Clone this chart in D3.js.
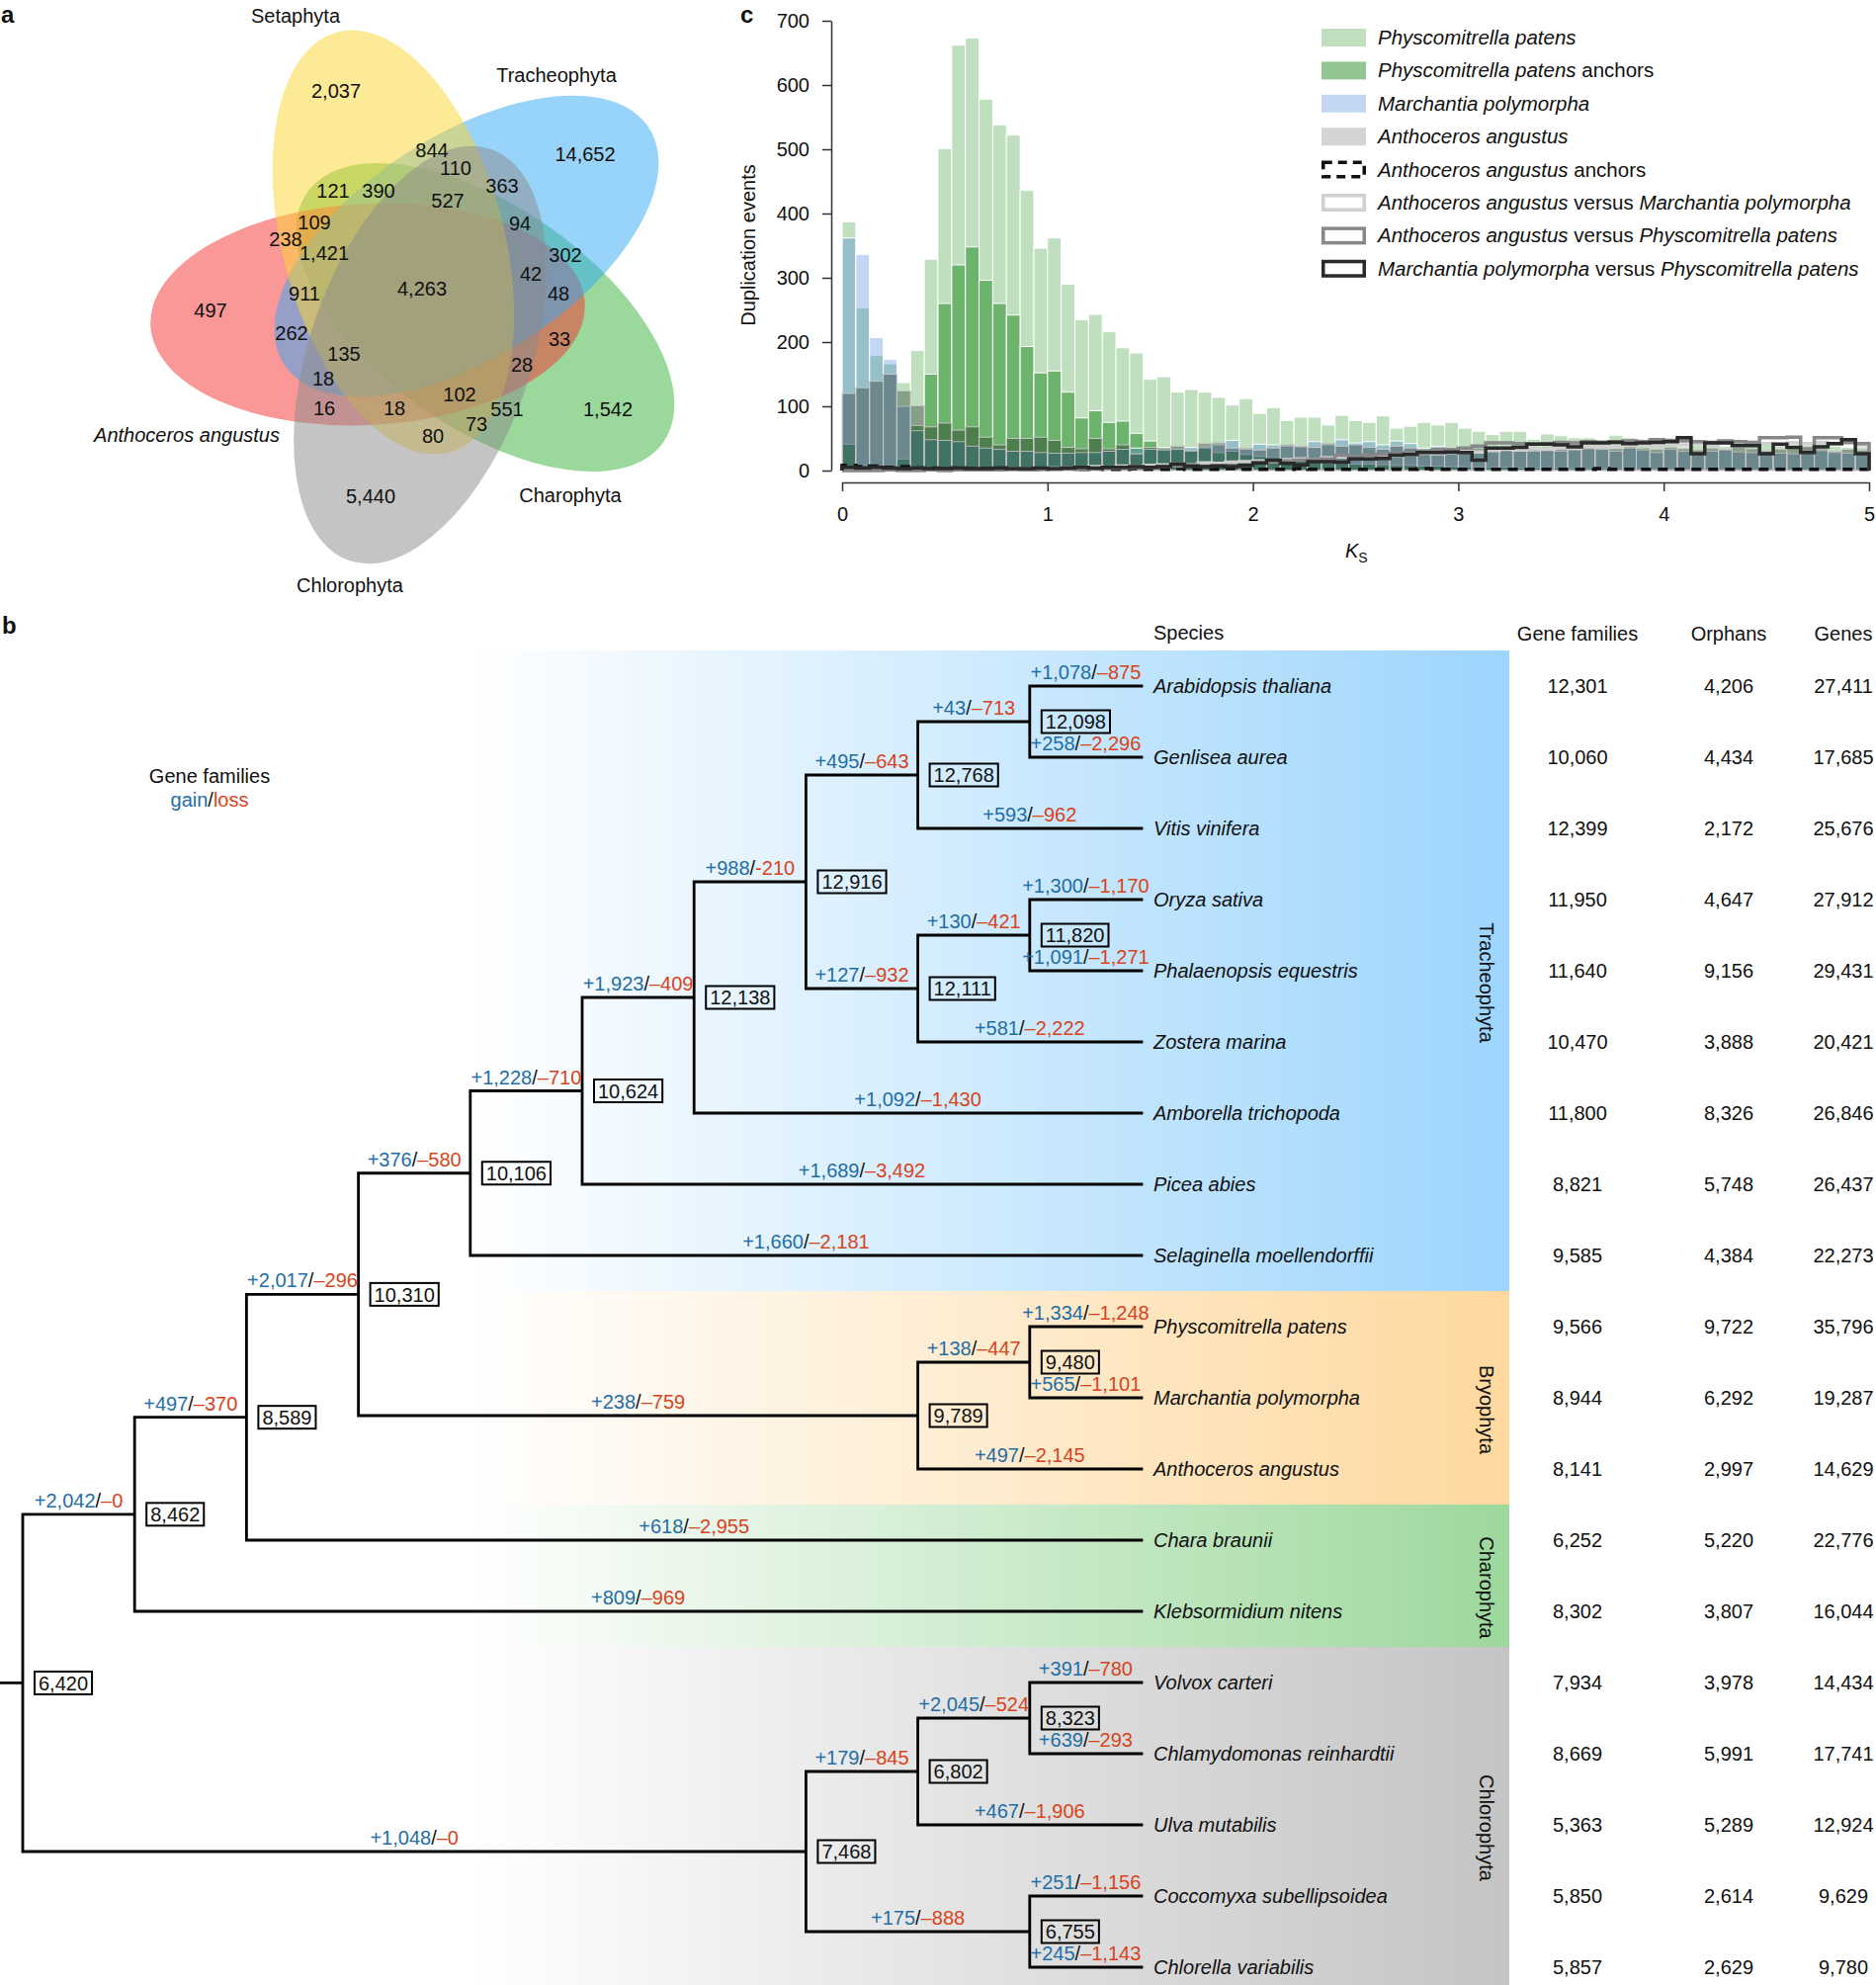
<!DOCTYPE html>
<html>
<head>
<meta charset="utf-8">
<script src="https://cdn.jsdelivr.net/npm/d3@7"></script>
<style>
  body { margin: 0; background: #fff; }
  text { font-family: "Liberation Sans", Arial, Helvetica, sans-serif; font-size: 20px; fill: #111; white-space: pre; }
  .panel { font-weight: bold; font-size: 24px; }
  .axis text { font-size: 20px; }
  .axis path, .axis line { stroke: #333; stroke-width: 1.5; }
</style>
</head>
<body>
<script>

// ---------- panel a : five-set Venn ----------
var vennNames  = ["Setaphyta", "Tracheophyta", "Charophyta", "Chlorophyta", "Anthoceros angustus"];
var vennColors = ["rgb(251,213,45)", "rgb(49,167,245)", "rgb(55,177,55)", "rgb(137,137,137)", "rgb(245,49,49)"];
var vennCounts = [2037, 14652, 1542, 5440, 497, 844, 110, 121, 390, 527, 363, 109, 94, 238, 1421,
                  302, 4263, 42, 911, 48, 262, 33, 135, 28, 18, 102, 16, 18, 551, 73, 80];

// ---------- panel c : Ks histograms (bins of 1/15 from 0 to 5) ----------
var ksBinWidth = 1 / 15;
var ppCounts = [387,253,179,166,137,187,329,501,662,673,578,538,522,436,346,362,290,235,243,216,
                191,183,142,146,122,126,122,114,102,112,89,98,78,83,83,71,86,78,75,85,
                66,69,75,71,75,66,61,56,61,61,49,57,54,51,51,48,55,51,49,43,
                48,37,40,45,38,42,40,44,38,35,40,42,38,36,37];
var ppAnchors = [41,8,6,4,18,70,150,260,320,348,296,260,242,193,152,155,122,82,93,75,
                 77,58,46,36,33,30,35,28,30,25,22,20,18,15,14,12,12,10,10,9,
                 8,8,7,7,6,6,5,5,5,4,4,4,4,3,3,3,3,3,2,2,
                 2,2,2,2,2,2,1,1,1,1,1,1,1,1,1];
var mpCounts = [362,336,207,173,100,62,48,47,45,38,35,33,30,30,28,27,27,28,28,30,
                33,35,33,32,33,36,37,40,47,33,41,40,38,37,45,40,48,43,45,40,
                46,42,35,38,36,32,30,36,35,32,30,33,30,32,34,33,30,35,32,28,
                33,30,28,30,32,29,28,30,27,26,30,31,28,27,25];
var aaCounts = [120,129,139,150,124,101,68,74,63,68,52,40,50,50,52,47,36,34,50,34,
                40,26,36,34,38,31,42,43,35,35,32,35,40,38,36,42,38,40,36,33,
                38,35,30,36,33,30,35,32,36,38,34,36,33,35,37,34,36,38,35,33,
                36,34,32,35,33,36,34,31,33,35,32,34,30,33,32];
var aaAnchors = [8,6,7,5,6,4,4,3,4,3,3,4,3,3,2,3,3,2,3,2,
                 2,3,2,2,3,2,2,2,3,2,2,2,2,3,2,2,2,2,2,2,
                 2,2,3,2,2,2,2,2,2,2,2,2,2,2,2,3,2,2,2,2,
                 2,2,2,2,2,2,2,2,2,2,2,2,2,2,2];
var aaVsMp = [0,0,1,1,1,1,1,1,2,2,2,2,3,3,3,4,4,5,6,5,
              7,6,8,9,10,9,12,11,13,14,15,14,17,18,17,20,21,19,22,24,
              23,25,27,26,28,30,29,31,33,32,34,33,36,35,37,38,36,39,40,38,
              41,40,42,39,43,44,41,42,40,43,42,44,41,43,40];
var aaVsPp = [0,0,0,1,0,0,1,0,1,1,1,1,2,1,2,2,3,2,3,4,
              4,5,5,6,7,8,7,8,8,9,12,14,15,16,17,18,24,22,24,25,
              27,28,30,31,33,35,38,43,43,42,41,42,44,43,45,44,45,46,45,48,
              47,46,45,44,46,45,44,51,51,52,34,51,51,44,42];
var mpVsPp = [5,4,5,4,3,4,3,3,4,3,3,4,3,3,4,3,4,5,4,5,
              5,6,5,6,10,7,6,7,6,8,12,16,11,9,14,14,13,18,18,19,
              24,25,28,28,29,28,16,35,35,36,41,41,40,37,43,43,44,42,43,44,
              45,51,26,43,43,39,39,26,41,36,28,37,42,48,26];
var ksTicks  = [0, 1, 2, 3, 4, 5];
var dupTicks = [0, 100, 200, 300, 400, 500, 600, 700];
var seriesNames = ["Physcomitrella patens", "Physcomitrella patens anchors", "Marchantia polymorpha",
                   "Anthoceros angustus", "Anthoceros angustus anchors",
                   "Anthoceros angustus versus Marchantia polymorpha",
                   "Anthoceros angustus versus Physcomitrella patens",
                   "Marchantia polymorpha versus Physcomitrella patens"];

// ---------- panel b : species tree ----------
var speciesNames = ["Arabidopsis thaliana", "Genlisea aurea", "Vitis vinifera", "Oryza sativa",
  "Phalaenopsis equestris", "Zostera marina", "Amborella trichopoda", "Picea abies",
  "Selaginella moellendorffii", "Physcomitrella patens", "Marchantia polymorpha", "Anthoceros angustus",
  "Chara braunii", "Klebsormidium nitens", "Volvox carteri", "Chlamydomonas reinhardtii",
  "Ulva mutabilis", "Coccomyxa subellipsoidea", "Chlorella variabilis"];
var geneFamilies = [12301,10060,12399,11950,11640,10470,11800,8821,9585,9566,8944,8141,6252,8302,7934,8669,5363,5850,5857];
var orphans      = [4206,4434,2172,4647,9156,3888,8326,5748,4384,9722,6292,2997,5220,3807,3978,5991,5289,2614,2629];
var genes        = [27411,17685,25676,27912,29431,20421,26846,26437,22273,35796,19287,14629,22776,16044,14434,17741,12924,9629,9780];
var tableHeads   = ["Gene families", "Orphans", "Genes"];

var nodeIds = ["root", "streptophyta", "n8589", "embryophyta", "tracheophyta", "euphyllophyta",
  "angiosperms", "mesangiosperms", "eudicots", "n12098", "Arabidopsis thaliana", "Genlisea aurea",
  "Vitis vinifera", "monocots", "n11820", "Oryza sativa", "Phalaenopsis equestris", "Zostera marina",
  "Amborella trichopoda", "Picea abies", "Selaginella moellendorffii", "bryophytes", "setaphytes",
  "Physcomitrella patens", "Marchantia polymorpha", "Anthoceros angustus", "Chara braunii",
  "Klebsormidium nitens", "chlorophyta", "n6802", "n8323", "Volvox carteri",
  "Chlamydomonas reinhardtii", "Ulva mutabilis", "n6755", "Coccomyxa subellipsoidea", "Chlorella variabilis"];
var nodeParents = [null, "root", "streptophyta", "n8589", "embryophyta", "tracheophyta",
  "euphyllophyta", "angiosperms", "mesangiosperms", "eudicots", "n12098", "n12098",
  "eudicots", "mesangiosperms", "monocots", "n11820", "n11820", "monocots",
  "angiosperms", "euphyllophyta", "tracheophyta", "embryophyta", "bryophytes",
  "setaphytes", "setaphytes", "bryophytes", "n8589",
  "streptophyta", "root", "chlorophyta", "n6802", "n8323",
  "n8323", "n6802", "chlorophyta", "n6755", "n6755"];
var nodeGain = [null, 2042, 497, 2017, 376, 1228, 1923, 988, 495, 43, 1078, 258, 593, 127, 130, 1300, 1091, 581,
  1092, 1689, 1660, 238, 138, 1334, 565, 497, 618, 809, 1048, 179, 2045, 391, 639, 467, 175, 251, 245];
var nodeLoss = [null, 0, 370, 296, 580, 710, 409, 210, 643, 713, 875, 2296, 962, 932, 421, 1170, 1271, 2222,
  1430, 3492, 2181, 759, 447, 1248, 1101, 2145, 2955, 969, 0, 845, 524, 780, 293, 1906, 888, 1156, 1143];
var nodeFamilies = [6420, 8462, 8589, 10310, 10106, 10624, 12138, 12916, 12768, 12098, null, null,
  null, 12111, 11820, null, null, null, null, null, null, 9789, 9480, null, null, null, null,
  null, 7468, 6802, 8323, null, null, null, 6755, null, null];
var hyphenLoss = ["mesangiosperms"];

var cladeNames  = ["Tracheophyta", "Bryophyta", "Charophyta", "Chlorophyta"];
var cladeFirst  = ["Arabidopsis thaliana", "Physcomitrella patens", "Chara braunii", "Volvox carteri"];
var cladeLast   = ["Selaginella moellendorffii", "Anthoceros angustus", "Klebsormidium nitens", "Chlorella variabilis"];
var cladeColors = ["#9dd5fd", "#fed89e", "#9dd89d", "#c4c4c4"];

// ---------- layout ----------
var W = 1898, H = 2008;
var fmt = d3.format(",");
var gainColor = "#1f6ea8", lossColor = "#d9431b";

// Venn geometry: all ellipses congruent, one per set
var vennEllipse = [[398, 245, -15], [472, 249, 57], [491, 321, 125], [425, 359, 19], [372, 318, 87]];
var vennRx = 112, vennRy = 220;
var vennDrawOrder = [2, 4, 1, 0, 3];
var vennLabelXY = [[340,92],[592,156],[615,414],[375,502],[213,314],[437,152],[461,170],[337,193],
  [383,193],[453,203],[508,188],[318,225],[526,226],[289,242],[328,256],[572,258],[427,292],[537,277],
  [308,297],[565,297],[295,337],[566,343],[348,358],[528,369],[327,383],[465,399],[328,413],[399,413],
  [513,414],[482,429],[438,441]];
var vennNameXY = [[299,23,false],[563,83,false],[577,508,false],[354,599,false],[189,447,true]];

var svg = d3.select("body").append("svg")
    .attr("width", W).attr("height", H);

// ================= panel a =================
var gVenn = svg.append("g");
gVenn.append("text").attr("class", "panel").attr("x", 1).attr("y", 23).text("a");

vennDrawOrder.forEach(function(i) {
  var e = vennEllipse[i];
  gVenn.append("ellipse")
      .attr("transform", "translate(" + e[0] + "," + e[1] + ")rotate(" + e[2] + ")")
      .attr("rx", vennRx).attr("ry", vennRy)
      .attr("fill", vennColors[i]).attr("fill-opacity", 0.5);
});

gVenn.selectAll(".vcount").data(vennCounts).join("text")
    .attr("class", "vcount")
    .attr("x", function(d, i) { return vennLabelXY[i][0]; })
    .attr("y", function(d, i) { return vennLabelXY[i][1]; })
    .attr("dy", "0.36em")
    .attr("text-anchor", "middle")
    .text(function(d) { return fmt(d); });

gVenn.selectAll(".vname").data(vennNames).join("text")
    .attr("class", "vname")
    .attr("x", function(d, i) { return vennNameXY[i][0]; })
    .attr("y", function(d, i) { return vennNameXY[i][1]; })
    .attr("text-anchor", "middle")
    .style("font-style", function(d, i) { return vennNameXY[i][2] ? "italic" : "normal"; })
    .text(function(d) { return d; });

// ================= panel c =================
var gHist = svg.append("g");
gHist.append("text").attr("class", "panel").attr("x", 749).attr("y", 23).text("c");

var xKs  = d3.scaleLinear().domain([0, 5]).range([852, 1891]);
var yDup = d3.scaleLinear().domain([0, 700]).range([476, 21]);
var binPx = xKs(ksBinWidth) - xKs(0);

function drawBars(vals, fill, stroke) {
  gHist.append("g").selectAll("rect").data(vals).join("rect")
      .attr("x", function(d, i) { return xKs(i * ksBinWidth); })
      .attr("width", binPx)
      .attr("y", function(d) { return yDup(d); })
      .attr("height", function(d) { return yDup(0) - yDup(d); })
      .attr("fill", fill)
      .attr("stroke", stroke).attr("stroke-width", 1);
}

function drawSteps(vals, color, dash) {
  var pts = [[0, 0]];
  vals.forEach(function(v, i) {
    pts.push([i * ksBinWidth, v]);
    pts.push([(i + 1) * ksBinWidth, v]);
  });
  pts.push([vals.length * ksBinWidth, 0]);
  gHist.append("path")
      .attr("d", d3.line().x(function(p) { return xKs(p[0]); }).y(function(p) { return yDup(p[1]); })(pts))
      .attr("fill", "none")
      .attr("stroke", color)
      .attr("stroke-width", 3.5)
      .attr("stroke-dasharray", dash || null);
}

var histFill = ["rgba(0,128,0,0.25)", "rgba(0,120,0,0.43)", "rgba(55,122,222,0.3)", "rgba(0,0,0,0.29)"];
drawBars(ppCounts,  histFill[0], "#fff");
drawBars(ppAnchors, histFill[1], "#fff");
drawBars(mpCounts,  histFill[2], "#fff");
drawBars(aaCounts,  histFill[3], "#c8c8c8");
drawSteps(aaAnchors, "#111", "10,7");
drawSteps(aaVsMp, "#cfcfcf");
drawSteps(aaVsPp, "#888");
drawSteps(mpVsPp, "#2a2a2a");

gHist.append("g").attr("class", "axis")
    .attr("transform", "translate(841,0)")
    .call(d3.axisLeft(yDup).tickValues(dupTicks).tickSize(9).tickSizeOuter(0).tickPadding(13));
gHist.append("g").attr("class", "axis")
    .attr("transform", "translate(0,488)")
    .call(d3.axisBottom(xKs).tickValues(ksTicks).tickFormat(d3.format("d"))
      .tickSize(9).tickSizeOuter(0).tickPadding(16));
gHist.selectAll(".axis text").style("font-family", "Liberation Sans, Arial, sans-serif").style("font-size", "20px").attr("fill", "#111");

gHist.append("text")
    .attr("transform", "translate(764,248)rotate(-90)")
    .attr("text-anchor", "middle")
    .text("Duplication events");
var ksLabel = gHist.append("text").attr("x", 1361).attr("y", 564);
ksLabel.append("tspan").style("font-style", "italic").text("K");
ksLabel.append("tspan").attr("dy", 5).style("font-size", "14px").text("S");

// legend
var legendSwatch = [
  {fill: histFill[0], stroke: "none"},
  {fill: histFill[1], stroke: "none"},
  {fill: histFill[2], stroke: "none"},
  {fill: "rgba(0,0,0,0.17)", stroke: "none"},
  {fill: "none", stroke: "#111", dash: "9,6"},
  {fill: "none", stroke: "#cfcfcf"},
  {fill: "none", stroke: "#888"},
  {fill: "none", stroke: "#2a2a2a"}
];
var gLeg = gHist.append("g").attr("transform", "translate(1337,29)");
seriesNames.forEach(function(name, i) {
  var row = gLeg.append("g").attr("transform", "translate(0," + (i * 33.4) + ")");
  var sw = legendSwatch[i];
  if (sw.fill !== "none") {
    row.append("rect").attr("width", 45).attr("height", 18).attr("fill", sw.fill);
  } else {
    row.append("rect").attr("x", 1.75).attr("y", 1.75).attr("width", 41.5).attr("height", 14.5)
        .attr("fill", "none").attr("stroke", sw.stroke).attr("stroke-width", 3.5)
        .attr("stroke-dasharray", sw.dash || null);
  }
  var t = row.append("text").attr("x", 57).attr("y", 16).style("font-size", "20.5px");
  name.split(/( anchors| versus )/).forEach(function(part) {
    var plain = part === " anchors" || part === " versus ";
    t.append("tspan").style("font-style", plain ? "normal" : "italic").text(part);
  });
});

// ================= panel b =================
var gTree = svg.append("g");
gTree.append("text").attr("class", "panel").attr("x", 2).attr("y", 641).text("b");

var yRow = d3.scalePoint().domain(speciesNames).range([694, 1990]);
var rowStep = yRow.step();
var bandX0 = 480, bandX1 = 1527;

// clade bands with left-to-right fade
var defs = svg.append("defs");
cladeNames.forEach(function(name, i) {
  var grad = defs.append("linearGradient").attr("id", "band" + i)
      .attr("gradientUnits", "userSpaceOnUse")
      .attr("x1", bandX0).attr("x2", bandX1).attr("y1", 0).attr("y2", 0);
  grad.append("stop").attr("offset", 0).attr("stop-color", cladeColors[i]).attr("stop-opacity", 0);
  grad.append("stop").attr("offset", 1).attr("stop-color", cladeColors[i]).attr("stop-opacity", 1);
  var y0 = yRow(cladeFirst[i]) - rowStep / 2;
  var y1 = i === cladeNames.length - 1 ? H : yRow(cladeLast[i]) + rowStep / 2;
  gTree.append("rect")
      .attr("x", bandX0).attr("y", y0).attr("width", bandX1 - bandX0).attr("height", y1 - y0)
      .attr("fill", "url(#band" + i + ")");
  gTree.append("text")
      .attr("transform", "translate(1497," + ((y0 + y1) / 2 + 12) + ")rotate(90)")
      .attr("text-anchor", "middle")
      .text(name);
});

// hierarchy
var nodeTable = nodeIds.map(function(id, i) {
  return {id: id, parent: nodeParents[i], gain: nodeGain[i], loss: nodeLoss[i], families: nodeFamilies[i]};
});
var root = d3.stratify()
    .id(function(d) { return d.id; })
    .parentId(function(d) { return d.parent; })(nodeTable);

var xTree = d3.scaleLinear().domain([0, root.height]).range([1155, 23]);
root.eachAfter(function(n) {
  n.px = xTree(n.height);
  n.py = n.children ? (n.children[0].py + n.children[n.children.length - 1].py) / 2 : yRow(n.id);
});

var branchPath = "M0," + root.py + "H" + root.px;
root.descendants().forEach(function(n) {
  if (n.parent) branchPath += "M" + n.parent.px + "," + n.py + "H" + n.px;
  if (n.children) branchPath += "M" + n.px + "," + n.children[0].py + "V" + n.children[n.children.length - 1].py;
});
gTree.append("path").attr("d", branchPath)
    .attr("fill", "none").attr("stroke", "#000").attr("stroke-width", 2.8)
    .attr("stroke-linecap", "square");

// gain / loss on each branch
root.descendants().filter(function(n) { return n.parent; }).forEach(function(n) {
  var t = gTree.append("text")
      .attr("x", (n.parent.px + n.px) / 2).attr("y", n.py - 7)
      .attr("text-anchor", "middle");
  t.append("tspan").attr("fill", gainColor).text("+" + fmt(n.data.gain));
  t.append("tspan").attr("fill", "#111").text("/");
  t.append("tspan").attr("fill", lossColor)
      .text((hyphenLoss.indexOf(n.id) >= 0 ? "-" : "\u2013") + fmt(n.data.loss));
});

// gene family count boxes at internal nodes
root.descendants().filter(function(n) { return n.data.families; }).forEach(function(n) {
  var g = gTree.append("g").attr("transform", "translate(" + (n.px + 12) + "," + n.py + ")");
  var t = g.append("text").attr("x", 4).attr("dy", "0.36em").text(fmt(n.data.families));
  var w = t.node().getComputedTextLength();
  g.insert("rect", "text").attr("x", 0).attr("y", -11.5).attr("width", w + 8).attr("height", 23)
      .attr("fill", "none").attr("stroke", "#000").attr("stroke-width", 2);
});

// legend for gain/loss
gTree.append("text").attr("x", 212).attr("y", 792).attr("text-anchor", "middle").text("Gene families");
var gl = gTree.append("text").attr("x", 212).attr("y", 816).attr("text-anchor", "middle");
gl.append("tspan").attr("fill", gainColor).text("gain");
gl.append("tspan").attr("fill", "#111").text("/");
gl.append("tspan").attr("fill", lossColor).text("loss");

// species names and table
gTree.append("text").attr("x", 1167).attr("y", 647).text("Species");
var colX = [1596, 1749, 1865];
tableHeads.forEach(function(h, i) {
  gTree.append("text").attr("x", colX[i]).attr("y", 648).attr("text-anchor", "middle").text(h);
});
var tableCols = [geneFamilies, orphans, genes];
speciesNames.forEach(function(name, r) {
  var y = yRow(name) + 7;
  gTree.append("text").attr("x", 1167).attr("y", y).style("font-style", "italic").text(name);
  tableCols.forEach(function(col, c) {
    gTree.append("text").attr("x", colX[c]).attr("y", y).attr("text-anchor", "middle").text(fmt(col[r]));
  });
});

</script>
</body>
</html>
